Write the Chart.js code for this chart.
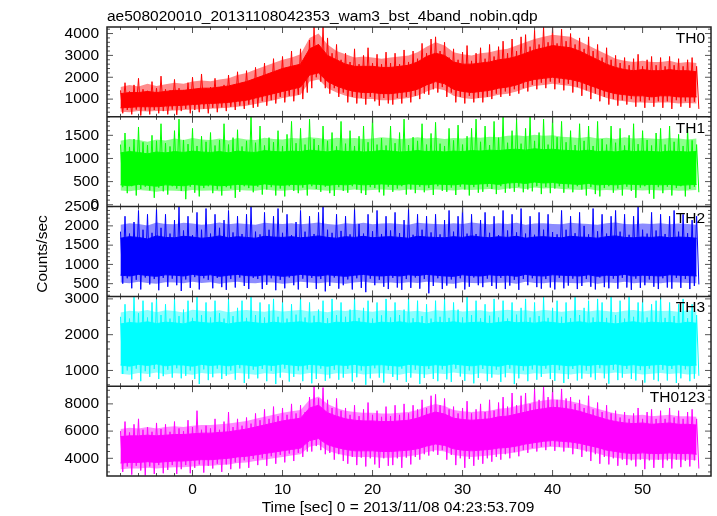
<!DOCTYPE html>
<html lang="en">
<head>
<meta charset="UTF-8">
<title>WAM light curve</title>
<script src="https://cdn.jsdelivr.net/npm/chart.js@4.4.1/dist/chart.umd.min.js"></script>
<style>
  html, body { margin: 0; padding: 0; background: #fff; }
  #wrap { width: 717px; height: 516px; }
</style>
</head>
<body>
<div id="wrap"><canvas id="lc" width="717" height="516"></canvas></div>
<script>
// texts
const titleText = 'ae508020010_20131108042353_wam3_bst_4band_nobin.qdp';
const xTitle = 'Time [sec] 0 = 2013/11/08 04:23:53.709';
const yTitle = 'Counts/sec';

// panels, top to bottom
const bandNames = ['TH0', 'TH1', 'TH2', 'TH3', 'TH0123'];
const bandColors = ['#ff0000', '#00ff00', '#0000ff', '#00ffff', '#ff00ff'];
const bandTints = ['rgba(255,0,0,0.45)', 'rgba(0,255,0,0.45)', 'rgba(0,0,255,0.45)', 'rgba(0,255,255,0.45)', 'rgba(255,0,255,0.45)'];
const bandMin = [190, -40, 170, 560, 2700];
const bandMax = [4300, 1900, 2500, 3070, 9300];
const bandTicks = [[1000, 2000, 3000, 4000], [0, 500, 1000, 1500], [500, 1000, 1500, 2000, 2500], [1000, 2000, 3000], [4000, 6000, 8000]];
const bandMinor = [200, 100, 100, 200, 500];

const xMin = -9.5, xMax = 57.6;
const xTicks = [0, 10, 20, 30, 40, 50];
const xMinor = 2;

// envelopes (1 s steps)
const coreT = [-8,-7,-6,-5,-4,-3,-2,-1,0,1,2,3,4,5,6,7,8,9,10,11,12,13,14,15,16,17,18,19,20,21,22,23,24,25,26,27,28,29,30,31,32,33,34,35,36,37,38,39,40,41,42,43,44,45,46,47,48,49,50,51,52,53,54,55,56];
// times of the upward spikes (0.5 s steps)
const peakT = [-8,-7.5,-7,-6.5,-6,-5.5,-5,-4.5,-4,-3.5,
  -3,-2.5,-2,-1.5,-1,-0.5,0,0.5,1,1.5,
  2,2.5,3,3.5,4,4.5,5,5.5,6,6.5,
  7,7.5,8,8.5,9,9.5,10,10.5,11,11.5,
  12,12.5,13,13.5,14,14.5,15,15.5,16,16.5,
  17,17.5,18,18.5,19,19.5,20,20.5,21,21.5,
  22,22.5,23,23.5,24,24.5,25,25.5,26,26.5,
  27,27.5,28,28.5,29,29.5,30,30.5,31,31.5,
  32,32.5,33,33.5,34,34.5,35,35.5,36,36.5,
  37,37.5,38,38.5,39,39.5,40,40.5,41,41.5,
  42,42.5,43,43.5,44,44.5,45,45.5,46,46.5,
  47,47.5,48,48.5,49,49.5,50,50.5,51,51.5,
  52,52.5,53,53.5,54,54.5,55,55.5,56];
// times of the downward spikes, between the peaks
const troughT = [-7.75,-7.25,-6.75,-6.25,-5.75,-5.25,-4.75,-4.25,-3.75,-3.25,
  -2.75,-2.25,-1.75,-1.25,-0.75,-0.25,0.25,0.75,1.25,1.75,
  2.25,2.75,3.25,3.75,4.25,4.75,5.25,5.75,6.25,6.75,
  7.25,7.75,8.25,8.75,9.25,9.75,10.25,10.75,11.25,11.75,
  12.25,12.75,13.25,13.75,14.25,14.75,15.25,15.75,16.25,16.75,
  17.25,17.75,18.25,18.75,19.25,19.75,20.25,20.75,21.25,21.75,
  22.25,22.75,23.25,23.75,24.25,24.75,25.25,25.75,26.25,26.75,
  27.25,27.75,28.25,28.75,29.25,29.75,30.25,30.75,31.25,31.75,
  32.25,32.75,33.25,33.75,34.25,34.75,35.25,35.75,36.25,36.75,
  37.25,37.75,38.25,38.75,39.25,39.75,40.25,40.75,41.25,41.75,
  42.25,42.75,43.25,43.75,44.25,44.75,45.25,45.75,46.25,46.75,
  47.25,47.75,48.25,48.75,49.25,49.75,50.25,50.75,51.25,51.75,
  52.25,52.75,53.25,53.75,54.25,54.75,55.25,55.75,56.25];

// TH0
const th0CoreHi = [1250,1300,1300,1350,1300,1350,1400,1400,1450,1500, 1500,1550,1600,1700,1800,1950,2100,2250,2400,2500,
  2600,3300,3500,3000,2800,2600,2500,2500,2500,2450, 2450,2500,2550,2700,2950,3100,3000,2700,2600,2600,
  2650,2700,2800,2850,2950,3100,3250,3350,3450,3400, 3350,3200,3000,2800,2600,2450,2350,2300,2350,2300,
  2300,2350,2300,2300,2250];
const th0CoreLo = [600,620,650,650,650,680,700,720,750,780, 800,820,850,900,950,1050,1150,1250,1350,1450,
  1550,2100,2200,1800,1600,1450,1350,1300,1300,1250, 1250,1300,1350,1450,1650,1800,1700,1450,1350,1300,
  1350,1400,1500,1550,1650,1800,1900,1950,2000,1950, 1900,1800,1650,1500,1350,1250,1200,1150,1150,1100,
  1150,1150,1100,1100,1100];
const th0OuterHi = [1550,1650,1580,1700,1600,1680,1750,1700,1800,1850, 1820,1900,1950,2100,2200,2350,2500,2650,2800,2900,
  3050,3800,4000,3500,3200,3050,2900,2950,2900,2850, 2900,2950,3000,3150,3400,3600,3450,3150,3050,3000,
  3100,3150,3250,3300,3450,3600,3750,3850,3950,3900, 3850,3650,3450,3250,3050,2850,2750,2700,2750,2700,
  2700,2750,2650,2700,2650];
const th0OuterLo = [420,400,450,430,460,450,480,500,520,540, 560,580,600,650,700,780,860,950,1050,1120,
  1200,1800,1900,1500,1300,1150,1050,1000,1000,950, 950,1000,1050,1150,1350,1500,1400,1150,1050,1000,
  1050,1100,1200,1250,1350,1500,1600,1650,1700,1650, 1600,1500,1350,1200,1050,950,900,850,850,820,
  850,850,800,820,800];
const th0SpikeHi = [1400,1750,1350,1650,1950,1450,1380,1800,1500,2050,
  1450,1400,1900,1500,1420,1750,2000,1450,2150,1500,
  1550,1950,1500,1650,2100,1600,2250,1650,2300,1700,
  2450,1900,2650,2000,2850,2100,2950,2250,3200,2400,
  3300,2700,3700,4300,3500,4300,3800,3100,3500,2800,
  3100,2700,3300,2600,3000,3350,2650,3050,2600,3150,
  2650,3100,2600,3250,2700,3200,2850,3550,3100,3750,
  3850,3200,3600,2900,3300,2800,3150,3450,2750,3100,
  3350,2850,3500,2950,3400,3650,3100,3750,3200,3850,
  3950,3400,4150,3500,4300,3600,4300,3550,4200,3650,
  4000,3500,3800,3300,3850,3200,3500,2900,3350,2800,
  3000,2650,2900,2550,2850,3050,2500,2800,2950,2550,
  2900,2500,2950,2550,2850,2500,2800,2900,2500];
const th0SpikeLo = [350,500,300,520,250,480,300,500,350,450,
  300,520,280,450,550,350,500,400,560,350,
  600,400,620,450,650,500,700,550,750,600,
  650,900,700,950,800,1100,850,1150,900,1200,
  1000,1300,1500,2000,1800,1500,1250,1500,1100,1300,
  850,1100,800,1050,750,1100,900,700,1050,800,
  750,1050,800,1100,850,1150,1000,1250,1200,1450,
  1300,1550,1100,1300,850,1100,800,1150,850,1050,
  850,1100,1000,1250,1100,1350,1150,1450,1250,1500,
  1350,1650,1450,1750,1500,1800,1450,1750,1400,1700,
  1300,1550,1150,1400,1000,1250,900,1100,750,1000,
  700,950,750,1000,650,900,600,950,650,900,
  600,900,550,950,650,900,600,880,550];

// TH1
const th1CoreHi = [1120,1150,1130,1100,1140,1120,1150,1130,1160,1140, 1130,1150,1120,1160,1140,1130,1170,1150,1140,1160,
  1150,1180,1160,1140,1170,1150,1160,1140,1150,1170, 1160,1140,1150,1170,1150,1160,1140,1160,1150,1170,
  1160,1180,1170,1190,1200,1180,1210,1190,1200,1180, 1170,1160,1180,1150,1160,1140,1170,1150,1160,1150,
  1140,1160,1150,1140,1150];
const th1CoreLo = [430,410,440,420,400,430,420,410,440,420, 430,410,420,440,430,420,450,430,420,440,
  430,450,440,420,440,430,450,430,440,450, 440,430,450,440,430,450,440,430,450,440,
  450,460,440,470,480,460,490,470,480,460, 450,440,460,430,440,430,450,440,430,440,
  430,440,420,430,440];
const th1OuterHi = [1380,1420,1400,1360,1410,1390,1430,1400,1440,1410, 1400,1430,1390,1440,1410,1400,1450,1420,1410,1440,
  1430,1460,1440,1410,1450,1430,1440,1420,1430,1460, 1440,1420,1430,1460,1430,1450,1420,1440,1430,1460,
  1450,1470,1460,1490,1500,1480,1510,1490,1500,1470, 1460,1440,1470,1430,1450,1420,1460,1430,1440,1430,
  1420,1440,1430,1410,1430];
const th1OuterLo = [310,290,320,300,280,310,300,290,320,300, 310,290,300,320,310,300,330,310,300,320,
  310,330,320,300,320,310,330,310,320,330, 320,310,330,320,310,330,320,310,330,320,
  330,340,320,350,360,340,370,350,360,340, 330,320,340,310,320,310,330,320,310,320,
  310,320,300,310,320];
const th1SpikeHi = [1300,1550,1250,1420,1680,1350,1290,1500,1380,1750,
  1330,1260,1600,1850,1400,1310,1650,1270,1480,1360,
  1560,1280,1400,1750,1300,1450,1620,1260,1380,1900,
  1340,1700,1280,1450,1350,1600,1270,1520,1800,1330,
  1650,1300,1850,1420,1290,1700,1380,1560,1260,1800,
  1320,1600,1270,1480,1700,1350,1900,1300,1440,1280,
  1700,1330,1560,1850,1290,1460,1380,1750,1300,1540,
  1780,1320,1270,1650,1390,1720,1300,1480,1650,1850,
  1360,1700,1290,1800,1450,1900,1340,1600,1850,1320,
  1650,1900,1380,1560,1850,1300,1900,1460,1800,1350,
  1600,1290,1750,1380,1700,1270,1800,1420,1300,1700,
  1340,1650,1280,1500,1750,1310,1600,1400,1280,1550,
  1650,1300,1700,1360,1520,1270,1650,1390,1300];
const th1SpikeLo = [380,250,400,200,340,390,310,150,370,290,
  220,400,350,300,120,390,260,180,360,400,
  250,330,200,380,350,150,280,400,360,270,
  390,220,330,380,200,350,180,400,300,250,
  370,200,400,340,280,390,250,190,380,300,
  260,400,330,250,210,380,360,270,200,390,
  280,350,400,220,330,250,390,270,360,210,
  400,300,280,370,210,390,330,200,380,260,
  280,390,340,230,400,260,350,280,390,270,
  330,290,400,230,380,250,350,400,260,370,
  270,400,330,200,380,230,180,360,400,260,
  350,200,390,300,150,370,400,240,130,380,
  250,390,200,360,400,180,340,390,270];

// TH2
const th2CoreHi = [1680,1720,1700,1660,1740,1700,1690,1730,1710,1680, 1700,1740,1690,1720,1700,1680,1730,1710,1700,1720,
  1690,1710,1740,1700,1680,1720,1700,1730,1690,1710, 1720,1700,1680,1730,1710,1700,1690,1720,1700,1740,
  1710,1690,1720,1700,1730,1680,1710,1720,1700,1690, 1730,1710,1700,1680,1720,1740,1700,1690,1710,1700,
  1720,1690,1710,1700,1680];
const th2CoreLo = [720,700,740,710,690,730,720,700,740,710, 730,690,720,740,710,700,730,720,690,710,
  740,720,700,730,710,690,720,740,710,700, 720,700,730,710,740,720,700,690,730,710,
  700,730,710,720,690,740,710,700,730,720, 710,700,730,690,720,710,740,700,720,710,
  700,730,720,710,700];
const th2OuterHi = [2030,2070,2050,2010,2090,2050,2040,2080,2060,2030, 2050,2090,2040,2070,2050,2030,2080,2060,2050,2070,
  2040,2060,2090,2050,2030,2070,2050,2080,2040,2060, 2070,2050,2030,2080,2060,2050,2040,2070,2050,2090,
  2060,2040,2070,2050,2080,2030,2060,2070,2050,2040, 2080,2060,2050,2030,2070,2090,2050,2040,2060,2050,
  2070,2040,2060,2050,2030];
const th2OuterLo = [530,510,550,520,500,540,530,510,550,520, 540,500,530,550,520,510,540,530,500,520,
  550,530,510,540,520,500,530,550,520,510, 530,510,540,520,550,530,510,500,540,520,
  510,540,520,530,500,550,520,510,540,530, 520,510,540,500,530,520,550,510,530,520,
  510,540,530,520,510];
const th2SpikeHi = [1850,2250,1800,2100,2400,1900,2300,1820,2450,1950,
  2300,1800,2150,2500,1880,2250,1760,2350,1900,2450,
  1800,2300,1950,2150,2400,1830,2250,1790,2300,2500,
  1850,1780,2350,1900,2250,2450,1820,2300,1760,2100,
  2400,1850,2250,1790,2350,2500,1900,1820,2300,1870,
  2250,1780,2450,2050,1800,2300,1860,2400,1790,2250,
  1880,2350,1810,2150,2450,1770,2300,1900,2250,1830,
  2300,1780,2150,2400,1850,2250,2500,1800,2300,1790,
  2150,2350,1820,2250,1760,2400,1880,2300,1830,2450,
  1800,2250,1770,2350,1900,2300,1840,1780,2400,1900,
  2250,1810,2350,2000,1780,2450,1860,2300,1800,2250,
  2400,1850,2300,1770,2250,2500,1900,1800,2350,1880,
  2300,1790,2250,2400,1850,2300,1810,2150,2250];
const th2SpikeLo = [500,640,380,600,350,660,480,620,330,650,
  420,630,460,310,610,390,670,350,640,600,
  380,650,410,340,620,400,660,440,360,650,
  620,360,470,640,330,600,380,660,460,350,
  630,390,650,360,620,300,440,660,370,460,
  610,350,640,390,280,630,460,600,420,360,
  650,400,340,620,390,660,370,620,250,440,
  640,360,450,610,380,640,350,420,660,460,
  410,630,440,370,650,360,450,600,340,620,
  460,640,410,370,620,400,350,650,380,450,
  630,360,440,620,420,350,660,410,380,630,
  370,650,400,340,630,390,460,610,420,360,
  640,400,370,650,390,620,360,440,480];

// TH3
const th3CoreHi = [2300,2340,2320,2360,2310,2350,2330,2300,2370,2340, 2320,2350,2300,2340,2360,2330,2310,2350,2320,2340,
  2360,2320,2340,2300,2350,2330,2370,2340,2310,2350, 2330,2360,2320,2340,2300,2350,2330,2360,2320,2340,
  2350,2310,2340,2370,2330,2350,2320,2360,2340,2310, 2340,2360,2320,2350,2330,2300,2340,2360,2320,2350,
  2330,2340,2310,2350,2320];
const th3CoreLo = [1150,1120,1170,1140,1180,1130,1160,1150,1120,1170, 1140,1160,1130,1170,1150,1120,1160,1140,1180,1150,
  1130,1170,1150,1120,1160,1140,1170,1130,1150,1160, 1140,1120,1170,1150,1130,1160,1140,1180,1150,1130,
  1160,1140,1120,1170,1150,1130,1160,1140,1170,1150, 1130,1160,1140,1170,1150,1180,1140,1160,1130,1150,
  1170,1140,1160,1130,1150];
const th3OuterHi = [2620,2670,2650,2690,2630,2680,2660,2620,2700,2670, 2650,2680,2630,2670,2690,2660,2640,2680,2650,2670,
  2690,2650,2670,2630,2680,2660,2700,2670,2640,2680, 2660,2690,2650,2670,2630,2680,2660,2690,2650,2670,
  2680,2640,2670,2700,2660,2680,2650,2690,2670,2640, 2670,2690,2650,2680,2660,2630,2670,2690,2650,2680,
  2660,2670,2640,2680,2650];
const th3OuterLo = [910,880,930,900,940,890,920,910,880,930, 900,920,890,930,910,880,920,900,940,910,
  890,930,910,880,920,900,930,890,910,920, 900,880,930,910,890,920,900,940,910,890,
  920,900,880,930,910,890,920,900,930,910, 890,920,900,930,910,940,900,920,890,910,
  930,900,920,890,910];
const th3SpikeHi = [2500,2850,2450,3050,2600,2950,2480,2900,3050,2550,
  2850,2450,3000,2520,2700,2950,2470,3050,2550,2900,
  2480,2950,2600,2450,3000,2520,2750,2950,2470,3050,
  2550,2900,2480,2850,3000,2500,2950,2450,2850,2560,
  3050,2480,2900,2530,2700,2950,2460,3000,2550,2900,
  2500,2700,3050,2470,2750,2950,2450,2900,2540,3000,
  2480,2900,2550,2700,3050,2460,2950,2520,2850,2450,
  2950,2500,3000,2470,2900,2700,2480,3050,2550,2950,
  2460,2850,2530,3000,2480,2950,2450,2900,2560,2750,
  3000,2480,2900,2520,3050,2470,2750,2950,2500,2900,
  2460,3050,2550,2750,2950,2480,3000,2900,2470,3050,
  2550,2950,2450,3050,2500,2900,3000,2480,2850,2950,
  3050,2470,2900,2520,2850,3000,2460,2850,2550];
const th3SpikeLo = [900,1000,750,1050,700,980,820,1040,760,840,
  1020,800,1060,780,850,1000,760,620,1030,730,
  810,1050,760,850,1000,740,1060,650,770,1020,
  780,1040,700,990,620,800,1050,690,820,1000,
  700,1030,640,760,1050,710,780,1020,740,800,
  1040,690,810,1000,600,780,1060,800,660,1010,
  820,730,1050,680,800,1020,620,790,1040,760,
  700,1030,750,680,1050,830,710,1000,640,790,
  1040,700,800,1020,680,810,1050,620,780,1000,
  700,1030,740,820,1050,760,710,1010,650,760,
  1040,720,770,1000,810,740,1060,780,630,1020,
  730,800,1040,760,720,1010,660,1050,740,700,
  1020,720,1040,650,780,1030,700,770,850];

// TH0123
const th0123CoreHi = [5600,5650,5650,5700,5650,5700,5750,5750,5800,5850, 5850,5900,5950,6050,6150,6300,6450,6600,6750,6850,
  6950,7700,7900,7350,7100,6900,6800,6750,6750,6700, 6700,6750,6800,6950,7200,7400,7250,6950,6850,6800,
  6850,6900,7050,7100,7250,7400,7550,7650,7750,7700, 7600,7450,7250,7050,6850,6700,6600,6550,6600,6500,
  6550,6600,6500,6500,6450];
const th0123CoreLo = [3650,3700,3700,3750,3700,3750,3800,3800,3850,3900, 3900,3950,4000,4100,4150,4250,4350,4450,4550,4650,
  4750,5300,5450,5000,4800,4650,4550,4550,4550,4500, 4500,4550,4600,4700,4900,5050,4950,4700,4600,4550,
  4600,4650,4750,4800,4900,5050,5150,5250,5300,5250, 5200,5100,4950,4800,4600,4500,4400,4350,4400,4350,
  4350,4400,4350,4350,4300];
const th0123OuterHi = [6150,6250,6200,6300,6200,6300,6350,6300,6400,6450, 6450,6500,6550,6650,6750,6900,7050,7200,7350,7450,
  7550,8300,8550,8000,7700,7500,7400,7350,7350,7300, 7300,7350,7400,7550,7800,8000,7850,7550,7450,7400,
  7450,7500,7650,7700,7850,8000,8150,8250,8350,8300, 8200,8050,7850,7650,7450,7300,7200,7150,7200,7100,
  7150,7200,7100,7100,7050];
const th0123OuterLo = [3200,3250,3250,3300,3250,3300,3350,3350,3400,3450, 3450,3500,3550,3650,3700,3800,3900,4000,4100,4200,
  4300,4850,5000,4550,4350,4200,4100,4100,4100,4050, 4050,4100,4150,4250,4450,4600,4500,4250,4150,4100,
  4150,4200,4300,4350,4450,4600,4700,4800,4850,4800, 4750,4650,4500,4350,4150,4050,3950,3900,3950,3900,
  3900,3950,3900,3900,3850];
const th0123SpikeHi = [6000,6700,5900,6500,6900,6100,6300,5950,6600,6150,
  6500,5950,6700,6200,6000,6800,6300,7500,6100,6400,
  6200,6900,6100,6700,7400,6300,6900,6400,7000,6550,
  7300,6800,7600,6900,7800,7100,7700,7200,8000,7300,
  7900,7400,8500,9300,8400,9200,8300,7700,8400,7500,
  7700,7200,7900,7100,7600,8100,7200,7500,7050,7800,
  7100,7900,7200,8000,7300,7900,7600,8300,7700,8600,
  8700,7900,8400,7600,7800,7300,7700,8200,7300,7600,
  8000,7400,8300,7500,8100,8500,7800,8800,7900,8600,
  8800,8000,9100,8300,9300,8500,9200,8300,9100,8400,
  8500,8000,8300,7700,8600,7600,8100,7400,7900,7300,
  7500,7000,7400,6900,7300,7700,6900,7400,7600,6900,
  7500,6900,7700,7000,7500,6900,7400,7600,6900];
const th0123SpikeLo = [3000,3400,2800,3450,3100,2750,3400,2850,3500,2900,
  3150,3500,2850,3200,3500,2900,3300,3550,2950,3450,
  3250,3600,3000,3550,3200,3700,3250,3850,3300,3950,
  3500,4000,3450,4150,3600,4250,3700,4350,3800,4400,
  4100,4500,4500,4900,4600,4300,4400,3900,4300,3800,
  3600,4100,3500,4050,3400,4000,3550,3300,4000,3450,
  3500,4000,3300,4050,3550,4100,3900,4300,4200,4500,
  4250,4600,3900,4250,3500,4000,3300,3950,3450,3900,
  3600,4000,3750,4100,3900,4300,4000,4450,4150,4600,
  4400,4750,4500,4850,4600,4900,4550,4850,4500,4800,
  4300,4700,4100,4500,3800,4300,3600,4100,3550,4000,
  3450,3900,3500,3850,3400,3900,3200,3850,3300,3900,
  3300,3850,3250,3900,3350,3800,3400,3850,3250];

const bands = [
  [th0CoreHi, th0CoreLo, th0SpikeHi, th0SpikeLo, th0OuterHi, th0OuterLo],
  [th1CoreHi, th1CoreLo, th1SpikeHi, th1SpikeLo, th1OuterHi, th1OuterLo],
  [th2CoreHi, th2CoreLo, th2SpikeHi, th2SpikeLo, th2OuterHi, th2OuterLo],
  [th3CoreHi, th3CoreLo, th3SpikeHi, th3SpikeLo, th3OuterHi, th3OuterLo],
  [th0123CoreHi, th0123CoreLo, th0123SpikeHi, th0123SpikeLo, th0123OuterHi, th0123OuterLo]
];

const FONT = '"Liberation Sans", Arial, Helvetica, sans-serif';
const FSIZE = 15.5;

function envelope(arr) {
  return coreT.map((t, i) => ({x: t, y: arr[i]}));
}

let datasets = [];
bands.forEach(function (b, k) {
  const axis = 'y' + k;
  const col = bandColors[k];
  // noisy trace: peak, trough, peak, ...
  let zig = [];
  peakT.forEach(function (t, i) {
    zig.push({x: t, y: b[2][i]});
    zig.push({x: troughT[i], y: b[3][i]});
  });
  datasets.push({data: zig, yAxisID: axis, borderColor: col, borderWidth: 1, pointRadius: 0, fill: false});
  // saturated part of the trace
  datasets.push({data: envelope(b[0]), yAxisID: axis, borderColor: col, borderWidth: 1, pointRadius: 0, fill: false});
  datasets.push({data: envelope(b[1]), yAxisID: axis, borderColor: col, borderWidth: 1, pointRadius: 0,
    fill: '-1', backgroundColor: col});
  // sparse fringe of the trace
  datasets.push({data: envelope(b[4]), yAxisID: axis, borderColor: 'rgba(0,0,0,0)', borderWidth: 1, pointRadius: 0, fill: false});
  datasets.push({data: envelope(b[5]), yAxisID: axis, borderColor: 'rgba(0,0,0,0)', borderWidth: 1, pointRadius: 0,
    fill: '-1', backgroundColor: bandTints[k]});
});

// stacked y axes; left boxes are placed last-defined first, so add bottom panel first
let scales = {};
for (let k = bands.length - 1; k >= 0; k--) {
  scales['y' + k] = {
    type: 'linear', position: 'left', stack: 'panels', stackWeight: 1, offset: false,
    min: bandMin[k], max: bandMax[k],
    grid: {display: false, drawTicks: false}, border: {display: false},
    ticks: {color: '#000', font: {family: FONT, size: FSIZE}, padding: 8, autoSkip: false,
            callback: v => String(v)},
    afterBuildTicks: s => { s.ticks = bandTicks[k].map(v => ({value: v})); },
    afterFit: s => { s.width = 107; }
  };
}
scales.x = {
  type: 'linear', position: 'bottom', min: xMin, max: xMax,
  grid: {display: false, drawTicks: false}, border: {display: false},
  ticks: {color: '#000', font: {family: FONT, size: FSIZE}, padding: 4, autoSkip: false, maxRotation: 0,
          callback: v => String(v)},
  afterBuildTicks: s => { s.ticks = xTicks.map(v => ({value: v})); },
  afterFit: s => { s.height = 40; }
};

function seg(ctx, x1, y1, x2, y2) {
  ctx.beginPath();
  ctx.moveTo(x1, y1);
  ctx.lineTo(x2, y2);
  ctx.stroke();
}

const qdpFrame = {
  id: 'qdpFrame',
  beforeDatasetDraw(chart, args) {
    const s = chart.scales[args.meta.yAxisID];
    const a = chart.chartArea;
    const ctx = chart.ctx;
    ctx.save();
    ctx.beginPath();
    ctx.rect(a.left, s.top, a.right - a.left, s.bottom - s.top);
    ctx.clip();
  },
  afterDatasetDraw(chart) {
    chart.ctx.restore();
  },
  afterDraw(chart) {
    const ctx = chart.ctx, a = chart.chartArea, xs = chart.scales.x;
    ctx.save();
    // inward ticks on all sides of every panel
    ctx.strokeStyle = '#555';
    ctx.lineWidth = 1;
    bandNames.forEach(function (name, k) {
      const s = chart.scales['y' + k];
      for (let t = -8; t <= 56; t += xMinor) {
        const len = xTicks.includes(t) ? 6 : 3;
        const px = xs.getPixelForValue(t);
        seg(ctx, px, s.top, px, s.top + len);
        seg(ctx, px, s.bottom, px, s.bottom - len);
      }
      const step = bandMinor[k];
      for (let v = Math.ceil(bandMin[k] / step) * step; v <= bandMax[k]; v += step) {
        const len = bandTicks[k].includes(v) ? 6 : 3;
        const py = s.getPixelForValue(v);
        seg(ctx, a.left, py, a.left + len, py);
        seg(ctx, a.right, py, a.right - len, py);
      }
    });
    // frames
    ctx.strokeStyle = '#222';
    ctx.lineWidth = 1.5;
    ctx.strokeRect(a.left, a.top, a.right - a.left, a.bottom - a.top);
    for (let k = 1; k < bandNames.length; k++) {
      const y = chart.scales['y' + k].top;
      seg(ctx, a.left, y, a.right, y);
    }
    // texts
    ctx.fillStyle = '#000';
    ctx.font = FSIZE + 'px ' + FONT;
    ctx.textBaseline = 'alphabetic';
    ctx.textAlign = 'left';
    ctx.fillText(titleText, a.left, 21);
    ctx.textAlign = 'right';
    bandNames.forEach(function (name, k) {
      ctx.fillText(name, a.right - 6, chart.scales['y' + k].top + 16);
    });
    ctx.textAlign = 'center';
    ctx.fillText(xTitle, 398, 512);
    ctx.save();
    ctx.translate(46.5, 254);
    ctx.rotate(-Math.PI / 2);
    ctx.fillText(yTitle, 0, 0);
    ctx.restore();
    ctx.restore();
  }
};

new Chart(document.getElementById('lc'), {
  type: 'line',
  data: {datasets: datasets},
  options: {
    responsive: false,
    animation: false,
    devicePixelRatio: 1,
    layout: {padding: {top: 27, right: 6, left: 0, bottom: 0}},
    elements: {line: {tension: 0}},
    plugins: {legend: {display: false}, tooltip: {enabled: false}, title: {display: false}},
    scales: scales
  },
  plugins: [qdpFrame]
});
</script>
</body>
</html>
